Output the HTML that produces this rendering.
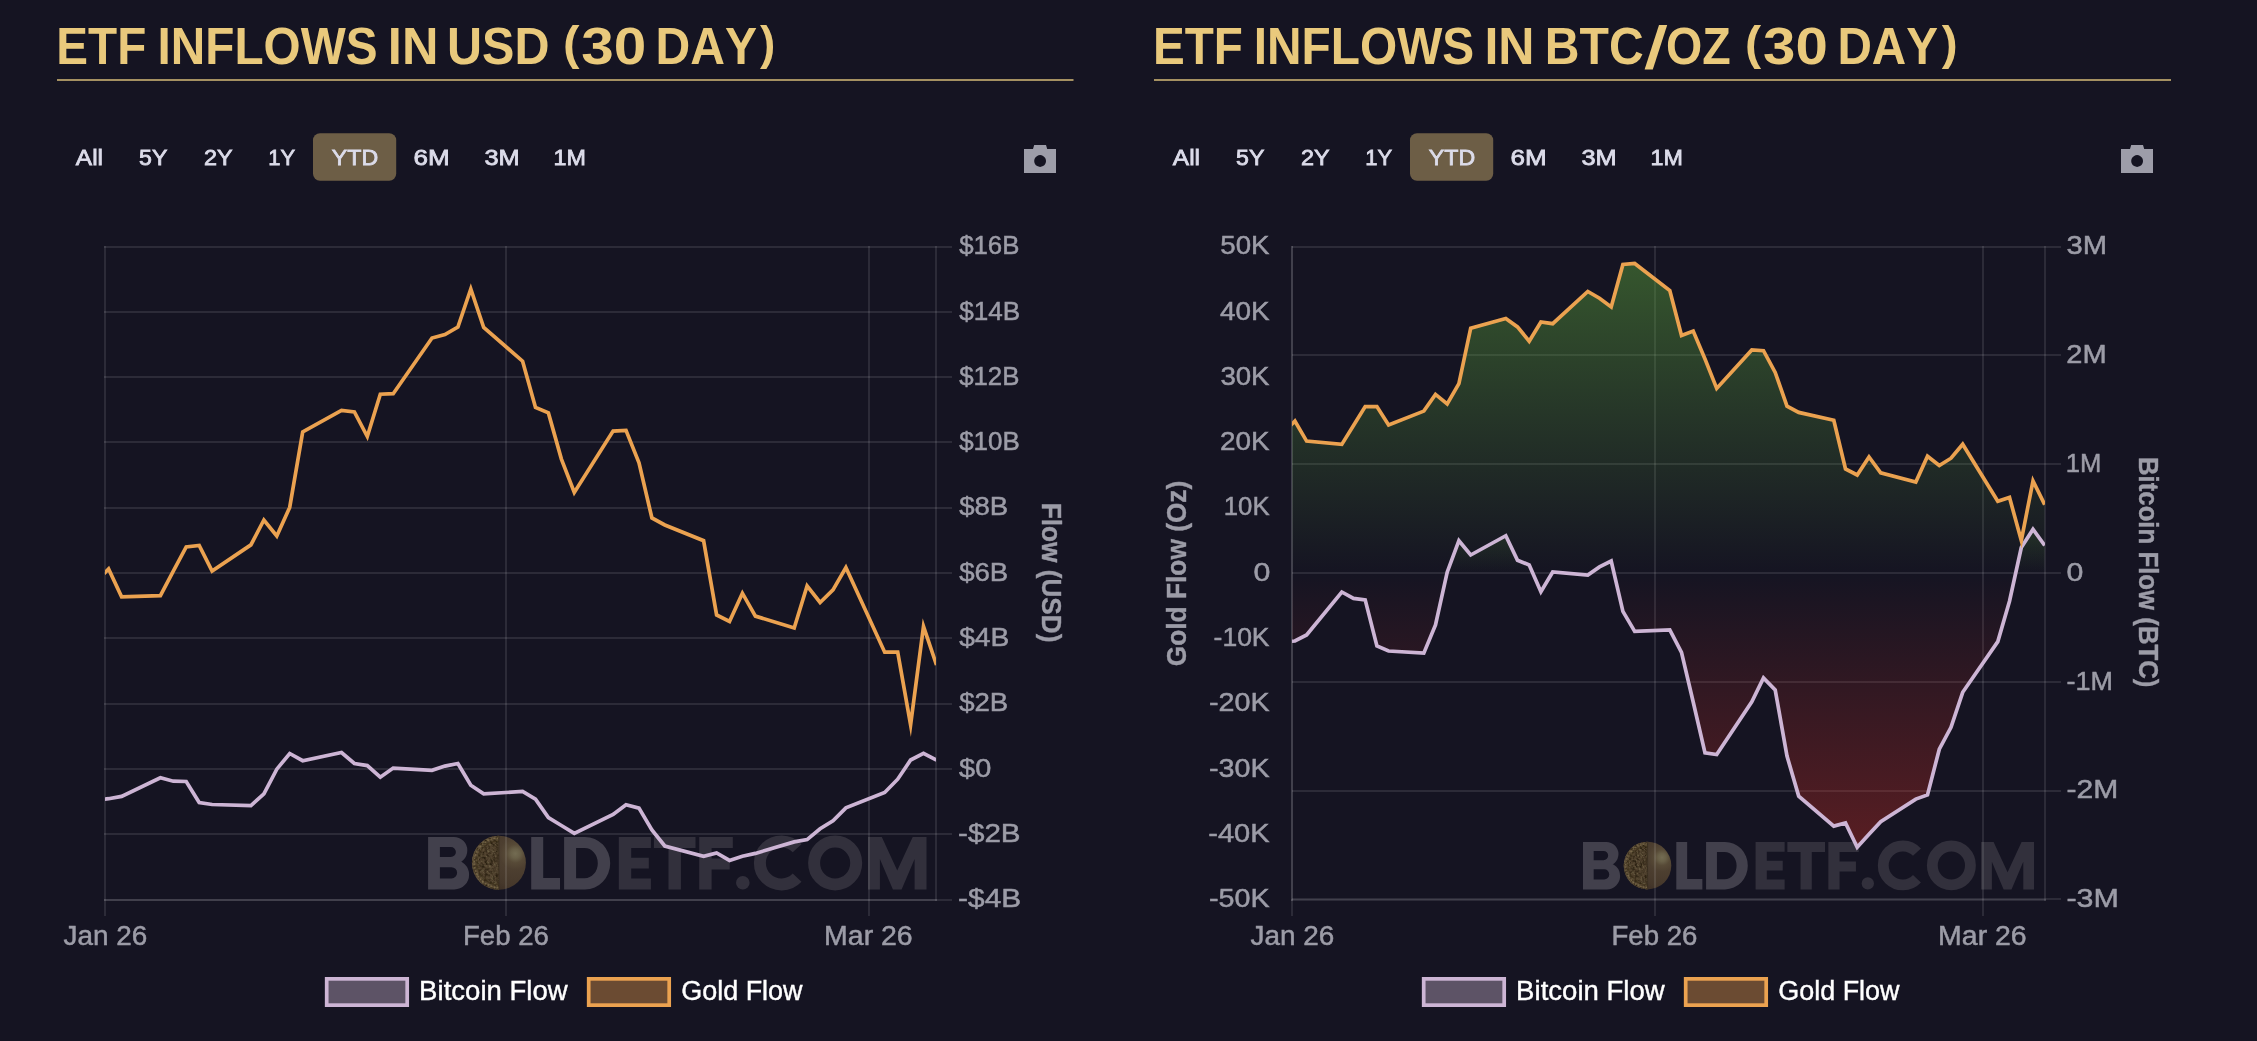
<!DOCTYPE html>
<html><head><meta charset="utf-8"><title>ETF Inflows</title>
<style>html,body{margin:0;padding:0;background:#151422;}body{width:2257px;height:1041px;overflow:hidden;}svg{display:block;will-change:transform;}text{font-family:"Liberation Sans", sans-serif;font-kerning:none;}</style>
</head><body>
<svg width="2257" height="1041" viewBox="0 0 2257 1041">
<defs>
<linearGradient id="gf" gradientUnits="userSpaceOnUse" x1="0" y1="247" x2="0" y2="900">
<stop offset="0" stop-color="#5ea83c" stop-opacity="0.47"/>
<stop offset="0.5" stop-color="#5ea83c" stop-opacity="0"/>
<stop offset="0.5" stop-color="#eb3223" stop-opacity="0"/>
<stop offset="1" stop-color="#eb3223" stop-opacity="0.37"/>
</linearGradient>
<linearGradient id="gb" gradientUnits="userSpaceOnUse" x1="0" y1="529" x2="0" y2="850">
<stop offset="0" stop-color="#5ea83c" stop-opacity="0.15"/>
<stop offset="0.137" stop-color="#5ea83c" stop-opacity="0"/>
<stop offset="0.137" stop-color="#eb3223" stop-opacity="0"/>
<stop offset="1" stop-color="#eb3223" stop-opacity="0.32"/>
</linearGradient>
<clipPath id="cl"><rect x="105" y="240" width="831" height="665"/></clipPath>
<clipPath id="cr"><rect x="1292" y="240" width="753" height="665"/></clipPath>
<radialGradient id="coinG" cx="0.805" cy="0.33" r="0.85"><stop offset="0" stop-color="#736c52"/><stop offset="0.1" stop-color="#696048"/><stop offset="0.2" stop-color="#574a37"/><stop offset="0.35" stop-color="#4d3f30"/><stop offset="0.7" stop-color="#46382b"/><stop offset="1" stop-color="#372a22"/></radialGradient>
<radialGradient id="coinLG" cx="0.5" cy="0.5" r="0.5"><stop offset="0" stop-color="#4c3d2b"/><stop offset="0.8" stop-color="#51422e"/><stop offset="1" stop-color="#5f503a"/></radialGradient>
<clipPath id="half"><rect x="-30" y="-30" width="30" height="60"/></clipPath>
<g id="wm">
<g fill="#42404c">
<path d="M0,0 H25.700000000000003 A13.5,13.5 0 0 1 39.2,13.5 V13.5 A13.5,13.5 0 0 1 25.700000000000003,27 H0 ZM0,23 H26.25 A14.75,14.75 0 0 1 41,37.75 V37.75 A14.75,14.75 0 0 1 26.25,52.5 H0 ZM11.8,10 V20.2 H22.700000000000003 A5.1,5.1 0 0 0 27.8,15.1 V15.1 A5.1,5.1 0 0 0 22.700000000000003,10 ZM11.8,30.3 V41.5 H23.4 A5.6,5.6 0 0 0 29,35.9 V35.9 A5.6,5.6 0 0 0 23.4,30.3 Z"/>
<path transform="translate(103.1,0)" d="M0,0 H12 V41.1 H28.8 V52.5 H0 Z"/>
<path transform="translate(136,0)" d="M0,0 H21 A25.1,26.25 0 0 1 21,52.5 H0 Z M12,11.1 V41.4 H20.5 A13.2,15.15 0 0 0 20.5,11.1 Z"/>
</g>
<g fill="#32303c">
<path transform="translate(190.7,0)" d="M0,0 H32.1 V11 H12.4 V20.8 H30 V31.6 H12.4 V41.5 H32.1 V52.5 H0 Z"/>
<path transform="translate(225.8,0)" d="M0,0 H41.6 V11.2 H27 V52.5 H14.6 V11.2 H0 Z"/>
<path transform="translate(271.1,0)" d="M0,0 H33.6 V11.2 H12.4 V21.6 H30.5 V32.6 H12.4 V52.5 H0 Z"/>
<circle cx="314.7" cy="45.9" r="6.8"/>
<path d="M369.02,11.34 A21.5,21.5 0 1 0 369.02,40.66" fill="none" stroke="#32303c" stroke-width="12"/>
<ellipse cx="407.05" cy="26.0" rx="21.05" ry="21.5" fill="none" stroke="#32303c" stroke-width="12"/>
<path transform="translate(439.9,0)" d="M0,52.5 V0 H13.8 L29.25,33.5 L44.7,0 H58.5 V52.5 H46.6 V22 L33.6,52.5 H24.9 L11.9,22 V52.5 Z"/>
</g>
</g>
<filter id="tex" color-interpolation-filters="sRGB" x="-10%" y="-10%" width="120%" height="120%"><feTurbulence type="fractalNoise" baseFrequency="0.42" numOctaves="3" seed="7" result="n"/><feColorMatrix in="n" type="matrix" values="0 0 0 0 0.43  0 0 0 0 0.385  0 0 0 0 0.275  1.9 1.9 0 0 -1.82" result="spk"/><feComposite in="spk" in2="SourceGraphic" operator="in"/></filter>
<filter id="tex2" color-interpolation-filters="sRGB" x="-10%" y="-10%" width="120%" height="120%"><feTurbulence type="fractalNoise" baseFrequency="0.36" numOctaves="2" seed="23" result="n"/><feColorMatrix in="n" type="matrix" values="0 0 0 0 0.17  0 0 0 0 0.13  0 0 0 0 0.07  0 2.0 2.0 0 -1.8" result="spk"/><feComposite in="spk" in2="SourceGraphic" operator="in"/></filter>
<g id="coin">
<circle r="26.7" fill="url(#coinG)"/>
<g clip-path="url(#half)">
<circle r="26.7" fill="url(#coinLG)"/>
<circle r="26.7" fill="#000" filter="url(#tex)"/>
<circle r="26.7" fill="#000" filter="url(#tex2)"/>
<circle r="24.4" fill="none" stroke="#8a7850" stroke-width="1.6" stroke-dasharray="1.5 1.7" opacity="0.6"/>
<circle r="21.6" fill="none" stroke="#3b2f18" stroke-width="1.2" opacity="0.6"/>
</g>
<rect x="-0.6" y="-26.5" width="1.2" height="53" fill="#2d2418" opacity="0.45"/>
</g>
</defs>
<rect width="2257" height="1041" fill="#151422"/>
<text x="56.31" y="63.70" font-size="51" font-weight="bold" fill="#e9c97c" textLength="89.93" lengthAdjust="spacingAndGlyphs">ETF</text>
<text x="157.56" y="63.70" font-size="51" font-weight="bold" fill="#e9c97c" textLength="220.06" lengthAdjust="spacingAndGlyphs">INFLOWS</text>
<text x="387.87" y="63.70" font-size="51" font-weight="bold" fill="#e9c97c" textLength="50.54" lengthAdjust="spacingAndGlyphs">IN</text>
<text x="447.09" y="63.70" font-size="51" font-weight="bold" fill="#e9c97c" textLength="102.45" lengthAdjust="spacingAndGlyphs">USD</text>
<text x="563.03" y="58.90" font-size="46.5" font-weight="bold" fill="#e9c97c" textLength="16.52" lengthAdjust="spacingAndGlyphs">(</text>
<text x="581.16" y="63.70" font-size="51" font-weight="bold" fill="#e9c97c" textLength="64.99" lengthAdjust="spacingAndGlyphs">30</text>
<text x="655.53" y="63.70" font-size="51" font-weight="bold" fill="#e9c97c" textLength="101.49" lengthAdjust="spacingAndGlyphs">DAY</text>
<text x="759.96" y="58.90" font-size="46.5" font-weight="bold" fill="#e9c97c" textLength="15.34" lengthAdjust="spacingAndGlyphs">)</text>
<rect x="57" y="79" width="1016.5" height="2" fill="#a59162"/>
<rect x="313" y="133.2" width="83.2" height="47.6" rx="7" fill="#6d5e46"/>
<text x="75.85" y="164.70" font-size="22.2" fill="#dcdcea" textLength="27.18" lengthAdjust="spacingAndGlyphs" stroke="#dcdcea" stroke-width="0.8">All</text>
<text x="139.07" y="164.70" font-size="22.2" fill="#dcdcea" textLength="28.34" lengthAdjust="spacingAndGlyphs" stroke="#dcdcea" stroke-width="0.8">5Y</text>
<text x="203.92" y="164.70" font-size="22.2" fill="#dcdcea" textLength="28.59" lengthAdjust="spacingAndGlyphs" stroke="#dcdcea" stroke-width="0.8">2Y</text>
<text x="268.23" y="164.70" font-size="22.2" fill="#dcdcea" textLength="26.85" lengthAdjust="spacingAndGlyphs" stroke="#dcdcea" stroke-width="0.8">1Y</text>
<text x="331.89" y="164.70" font-size="22.2" fill="#dcdcea" textLength="46.32" lengthAdjust="spacingAndGlyphs" stroke="#dcdcea" stroke-width="0.8">YTD</text>
<text x="413.58" y="164.70" font-size="22.2" fill="#dcdcea" textLength="36.16" lengthAdjust="spacingAndGlyphs" stroke="#dcdcea" stroke-width="0.8">6M</text>
<text x="484.43" y="164.70" font-size="22.2" fill="#dcdcea" textLength="35.25" lengthAdjust="spacingAndGlyphs" stroke="#dcdcea" stroke-width="0.8">3M</text>
<text x="553.62" y="164.70" font-size="22.2" fill="#dcdcea" textLength="32.39" lengthAdjust="spacingAndGlyphs" stroke="#dcdcea" stroke-width="0.8">1M</text>
<path fill="#9d9da9" fill-rule="evenodd" d="M1024,149 H1033 L1034.2,145 H1046 L1047.2,149 H1056 V173 H1024 Z M1040.1,155.1 a5.9,5.9 0 1,0 0.01,0 Z"/>
<use href="#wm" transform="translate(428.1,836.90) scale(1.0)"/>
<use href="#coin" transform="translate(498.9,862.8) scale(1.0112)"/>
<rect x="104" y="246.00" width="848" height="2" fill="rgba(255,255,255,0.1)"/>
<rect x="104" y="311.00" width="848" height="2" fill="rgba(255,255,255,0.1)"/>
<rect x="104" y="376.00" width="848" height="2" fill="rgba(255,255,255,0.1)"/>
<rect x="104" y="441.00" width="848" height="2" fill="rgba(255,255,255,0.1)"/>
<rect x="104" y="507.00" width="848" height="2" fill="rgba(255,255,255,0.1)"/>
<rect x="104" y="572.00" width="848" height="2" fill="rgba(255,255,255,0.1)"/>
<rect x="104" y="637.00" width="848" height="2" fill="rgba(255,255,255,0.1)"/>
<rect x="104" y="703.00" width="848" height="2" fill="rgba(255,255,255,0.1)"/>
<rect x="104" y="768.00" width="848" height="2" fill="rgba(255,255,255,0.1)"/>
<rect x="104" y="833.00" width="848" height="2" fill="rgba(255,255,255,0.1)"/>
<rect x="104" y="899.00" width="848" height="2" fill="rgba(255,255,255,0.1)"/>
<rect x="104" y="899.00" width="833" height="2" fill="rgba(255,255,255,0.1)"/>
<rect x="104.00" y="246" width="2" height="670" fill="rgba(255,255,255,0.1)"/>
<rect x="505.00" y="246" width="2" height="670" fill="rgba(255,255,255,0.1)"/>
<rect x="868.00" y="246" width="2" height="670" fill="rgba(255,255,255,0.1)"/>
<rect x="935.00" y="246" width="2" height="655" fill="rgba(255,255,255,0.1)"/>
<g clip-path="url(#cl)" fill="none" stroke-linejoin="miter" stroke-miterlimit="10" stroke-width="3.7">
<polyline stroke="#cdb5d5" points="95.7,800.0 108.6,798.7 121.6,796.4 160.4,777.8 173.3,781.2 186.2,781.5 199.2,802.5 212.1,804.5 250.9,805.6 263.9,793.8 276.8,769.2 289.7,753.5 302.7,760.7 341.5,752.5 354.4,763.5 367.3,765.6 380.3,777.2 393.2,768.1 432.0,770.3 444.9,766.1 457.9,763.5 470.8,785.3 483.7,793.8 522.6,791.5 535.5,799.1 548.4,817.6 561.4,825.5 574.3,833.4 613.1,814.5 626.0,804.7 639.0,808.1 651.9,829.9 664.8,846.0 703.6,856.3 716.6,852.9 729.5,860.4 742.4,856.3 755.4,853.4 794.2,841.9 807.1,839.6 820.1,828.8 833.0,820.7 845.9,807.9 884.7,792.5 897.7,779.2 910.6,760.0 923.5,753.4 936.5,760.0"/>
<polyline stroke="#eba250" points="95.7,582.0 108.6,569.0 121.6,596.8 160.4,595.6 173.3,571.2 186.2,546.9 199.2,545.4 212.1,571.1 250.9,544.9 263.9,520.0 276.8,536.0 289.7,507.4 302.7,432.0 341.5,410.5 354.4,412.0 367.3,436.5 380.3,394.2 393.2,393.7 432.0,338.0 444.9,334.5 457.9,327.0 470.8,289.0 483.7,327.5 522.6,361.2 535.5,407.4 548.4,412.9 561.4,459.1 574.3,492.5 613.1,431.1 626.0,430.4 639.0,462.9 651.9,518.0 664.8,525.0 703.6,540.7 716.6,614.9 729.5,621.5 742.4,593.2 755.4,616.1 794.2,628.0 807.1,585.9 820.1,602.5 833.0,589.9 845.9,567.5 884.7,652.2 897.7,652.2 910.6,724.8 923.5,626.4 936.5,665.0"/>
</g>
<text x="959.17" y="254.20" font-size="26.0" fill="#9c9ca7" textLength="60.24" lengthAdjust="spacingAndGlyphs" stroke="#9c9ca7" stroke-width="0.5">$16B</text>
<text x="959.17" y="319.50" font-size="26.0" fill="#9c9ca7" textLength="60.96" lengthAdjust="spacingAndGlyphs" stroke="#9c9ca7" stroke-width="0.5">$14B</text>
<text x="959.17" y="384.80" font-size="26.0" fill="#9c9ca7" textLength="60.24" lengthAdjust="spacingAndGlyphs" stroke="#9c9ca7" stroke-width="0.5">$12B</text>
<text x="959.17" y="450.10" font-size="26.0" fill="#9c9ca7" textLength="60.55" lengthAdjust="spacingAndGlyphs" stroke="#9c9ca7" stroke-width="0.5">$10B</text>
<text x="959.15" y="515.40" font-size="26.0" fill="#9c9ca7" textLength="49.05" lengthAdjust="spacingAndGlyphs" stroke="#9c9ca7" stroke-width="0.5">$8B</text>
<text x="959.15" y="580.70" font-size="26.0" fill="#9c9ca7" textLength="49.05" lengthAdjust="spacingAndGlyphs" stroke="#9c9ca7" stroke-width="0.5">$6B</text>
<text x="959.15" y="646.00" font-size="26.0" fill="#9c9ca7" textLength="50.09" lengthAdjust="spacingAndGlyphs" stroke="#9c9ca7" stroke-width="0.5">$4B</text>
<text x="959.15" y="711.30" font-size="26.0" fill="#9c9ca7" textLength="49.05" lengthAdjust="spacingAndGlyphs" stroke="#9c9ca7" stroke-width="0.5">$2B</text>
<text x="959.14" y="776.60" font-size="26.0" fill="#9c9ca7" textLength="32.14" lengthAdjust="spacingAndGlyphs" stroke="#9c9ca7" stroke-width="0.5">$0</text>
<text x="958.14" y="841.90" font-size="26.0" fill="#9c9ca7" textLength="62.47" lengthAdjust="spacingAndGlyphs" stroke="#9c9ca7" stroke-width="0.5">-$2B</text>
<text x="958.12" y="907.20" font-size="26.0" fill="#9c9ca7" textLength="63.00" lengthAdjust="spacingAndGlyphs" stroke="#9c9ca7" stroke-width="0.5">-$4B</text>
<text x="63.56" y="945.20" font-size="27.0" fill="#9c9ca7" textLength="83.66" lengthAdjust="spacingAndGlyphs" stroke="#9c9ca7" stroke-width="0.5">Jan 26</text>
<text x="462.98" y="945.20" font-size="27.0" fill="#9c9ca7" textLength="85.98" lengthAdjust="spacingAndGlyphs" stroke="#9c9ca7" stroke-width="0.5">Feb 26</text>
<text x="824.12" y="945.20" font-size="27.0" fill="#9c9ca7" textLength="88.59" lengthAdjust="spacingAndGlyphs" stroke="#9c9ca7" stroke-width="0.5">Mar 26</text>
<text transform="translate(1042.4,572.8) rotate(90)" x="-70.05" y="0" font-size="28.5" font-weight="bold" fill="#9c9ca7" stroke="#9c9ca7" stroke-width="0.4" textLength="139.66" lengthAdjust="spacingAndGlyphs">Flow (USD)</text>
<rect x="326.7" y="978.85" width="80.5" height="26.3" fill="#5d5366" stroke="#cdb5d5" stroke-width="3.7"/>
<text x="419.14" y="1000.00" font-size="27.0" fill="#ffffff" textLength="148.59" lengthAdjust="spacingAndGlyphs" stroke="#ffffff" stroke-width="0.4">Bitcoin Flow</text>
<rect x="588.7" y="978.85" width="80.5" height="26.3" fill="#6b4b32" stroke="#eba250" stroke-width="3.7"/>
<text x="681.24" y="1000.00" font-size="27.0" fill="#ffffff" textLength="121.29" lengthAdjust="spacingAndGlyphs" stroke="#ffffff" stroke-width="0.4">Gold Flow</text>
<text x="1153.01" y="63.70" font-size="51" font-weight="bold" fill="#e9c97c" textLength="89.93" lengthAdjust="spacingAndGlyphs">ETF</text>
<text x="1253.80" y="63.70" font-size="51" font-weight="bold" fill="#e9c97c" textLength="220.36" lengthAdjust="spacingAndGlyphs">INFLOWS</text>
<text x="1484.45" y="63.70" font-size="51" font-weight="bold" fill="#e9c97c" textLength="50.13" lengthAdjust="spacingAndGlyphs">IN</text>
<text x="1544.78" y="63.70" font-size="51" font-weight="bold" fill="#e9c97c" textLength="98.94" lengthAdjust="spacingAndGlyphs">BTC</text>
<path d="M1644.6,69.4 L1652.8,69.4 L1667.2,25.1 L1659.0,25.1 Z" fill="#e9c97c"/>
<text x="1665.99" y="63.70" font-size="51" font-weight="bold" fill="#e9c97c" textLength="64.76" lengthAdjust="spacingAndGlyphs">OZ</text>
<text x="1744.98" y="58.90" font-size="46.5" font-weight="bold" fill="#e9c97c" textLength="16.17" lengthAdjust="spacingAndGlyphs">(</text>
<text x="1763.06" y="63.70" font-size="51" font-weight="bold" fill="#e9c97c" textLength="64.72" lengthAdjust="spacingAndGlyphs">30</text>
<text x="1837.41" y="63.70" font-size="51" font-weight="bold" fill="#e9c97c" textLength="100.66" lengthAdjust="spacingAndGlyphs">DAY</text>
<text x="1941.75" y="58.90" font-size="46.5" font-weight="bold" fill="#e9c97c" textLength="15.93" lengthAdjust="spacingAndGlyphs">)</text>
<rect x="1154" y="79" width="1017" height="2" fill="#a59162"/>
<rect x="1410" y="133.2" width="83.2" height="47.6" rx="7" fill="#6d5e46"/>
<text x="1172.85" y="164.70" font-size="22.2" fill="#dcdcea" textLength="27.18" lengthAdjust="spacingAndGlyphs" stroke="#dcdcea" stroke-width="0.8">All</text>
<text x="1236.07" y="164.70" font-size="22.2" fill="#dcdcea" textLength="28.34" lengthAdjust="spacingAndGlyphs" stroke="#dcdcea" stroke-width="0.8">5Y</text>
<text x="1300.92" y="164.70" font-size="22.2" fill="#dcdcea" textLength="28.59" lengthAdjust="spacingAndGlyphs" stroke="#dcdcea" stroke-width="0.8">2Y</text>
<text x="1365.23" y="164.70" font-size="22.2" fill="#dcdcea" textLength="26.85" lengthAdjust="spacingAndGlyphs" stroke="#dcdcea" stroke-width="0.8">1Y</text>
<text x="1428.89" y="164.70" font-size="22.2" fill="#dcdcea" textLength="46.32" lengthAdjust="spacingAndGlyphs" stroke="#dcdcea" stroke-width="0.8">YTD</text>
<text x="1510.58" y="164.70" font-size="22.2" fill="#dcdcea" textLength="36.16" lengthAdjust="spacingAndGlyphs" stroke="#dcdcea" stroke-width="0.8">6M</text>
<text x="1581.43" y="164.70" font-size="22.2" fill="#dcdcea" textLength="35.25" lengthAdjust="spacingAndGlyphs" stroke="#dcdcea" stroke-width="0.8">3M</text>
<text x="1650.62" y="164.70" font-size="22.2" fill="#dcdcea" textLength="32.39" lengthAdjust="spacingAndGlyphs" stroke="#dcdcea" stroke-width="0.8">1M</text>
<path fill="#9d9da9" fill-rule="evenodd" d="M2121,149 H2130 L2131.2,145 H2143 L2144.2,149 H2153 V173 H2121 Z M2137.1,155.1 a5.9,5.9 0 1,0 0.01,0 Z"/>
<use href="#wm" transform="translate(1583,841.89) scale(0.905)"/>
<use href="#coin" transform="translate(1647.5,865.6) scale(0.8914)"/>
<rect x="1292" y="246.00" width="769" height="2" fill="rgba(255,255,255,0.1)"/>
<rect x="1292" y="354.00" width="769" height="2" fill="rgba(255,255,255,0.1)"/>
<rect x="1292" y="463.00" width="769" height="2" fill="rgba(255,255,255,0.1)"/>
<rect x="1292" y="572.00" width="769" height="2" fill="rgba(255,255,255,0.1)"/>
<rect x="1292" y="681.00" width="769" height="2" fill="rgba(255,255,255,0.1)"/>
<rect x="1292" y="790.00" width="769" height="2" fill="rgba(255,255,255,0.1)"/>
<rect x="1292" y="898.00" width="769" height="2" fill="rgba(255,255,255,0.1)"/>
<rect x="1291" y="899.00" width="755" height="2" fill="rgba(255,255,255,0.1)"/>
<rect x="1291.00" y="246" width="2" height="670" fill="rgba(255,255,255,0.1)"/>
<rect x="1654.00" y="246" width="2" height="670" fill="rgba(255,255,255,0.1)"/>
<rect x="1982.00" y="246" width="2" height="670" fill="rgba(255,255,255,0.1)"/>
<rect x="1291.00" y="246" width="2" height="655" fill="rgba(255,255,255,0.1)"/>
<rect x="2044.00" y="246" width="2" height="655" fill="rgba(255,255,255,0.1)"/>
<g clip-path="url(#cr)">
<path d="M1283.2,642.0 L1294.9,641.0 L1306.6,635.0 L1341.8,592.0 L1353.5,598.4 L1365.2,599.9 L1376.9,646.0 L1388.6,651.0 L1423.8,653.1 L1435.5,624.9 L1447.2,572.2 L1458.9,540.7 L1470.7,555.0 L1505.8,535.7 L1517.5,560.2 L1529.2,565.0 L1540.9,591.7 L1552.7,572.0 L1587.8,575.0 L1599.5,566.9 L1611.2,561.0 L1622.9,611.4 L1634.7,631.4 L1669.8,630.0 L1681.5,652.3 L1693.2,702.0 L1705.0,752.9 L1716.7,754.5 L1751.8,701.9 L1763.5,678.0 L1775.2,689.9 L1787.0,756.1 L1798.7,796.1 L1833.8,826.1 L1845.5,823.0 L1857.2,847.3 L1869.0,834.3 L1880.7,821.8 L1915.8,799.1 L1927.5,794.9 L1939.3,749.2 L1951.0,727.3 L1962.7,692.3 L1997.8,641.6 L2009.5,601.2 L2021.3,547.5 L2033.0,529.3 L2044.7,545.5 L2044.7,573 L1283.2,573 Z" fill="url(#gb)"/>
<path d="M1283.2,432.8 L1294.9,421.1 L1306.6,441.1 L1341.8,444.4 L1353.5,425.5 L1365.2,406.6 L1376.9,406.6 L1388.6,425.0 L1423.8,411.1 L1435.5,394.4 L1447.2,404.0 L1458.9,383.6 L1470.7,328.2 L1505.8,318.5 L1517.5,326.9 L1529.2,341.2 L1540.9,322.0 L1552.7,323.7 L1587.8,291.5 L1599.5,298.2 L1611.2,307.0 L1622.9,264.5 L1634.7,263.5 L1669.8,290.5 L1681.5,335.5 L1693.2,331.0 L1705.0,359.0 L1716.7,388.4 L1751.8,349.9 L1763.5,350.7 L1775.2,372.4 L1787.0,406.1 L1798.7,412.4 L1833.8,420.3 L1845.5,469.0 L1857.2,475.0 L1869.0,457.0 L1880.7,472.9 L1915.8,482.0 L1927.5,456.2 L1939.3,465.5 L1951.0,458.2 L1962.7,444.2 L1997.8,501.2 L2009.5,497.4 L2021.3,540.5 L2033.0,480.9 L2044.7,504.7 L2044.7,573 L1283.2,573 Z" fill="url(#gf)"/>
<g fill="none" stroke-linejoin="miter" stroke-miterlimit="10" stroke-width="3.7">
<polyline stroke="#cdb5d5" points="1283.2,642.0 1294.9,641.0 1306.6,635.0 1341.8,592.0 1353.5,598.4 1365.2,599.9 1376.9,646.0 1388.6,651.0 1423.8,653.1 1435.5,624.9 1447.2,572.2 1458.9,540.7 1470.7,555.0 1505.8,535.7 1517.5,560.2 1529.2,565.0 1540.9,591.7 1552.7,572.0 1587.8,575.0 1599.5,566.9 1611.2,561.0 1622.9,611.4 1634.7,631.4 1669.8,630.0 1681.5,652.3 1693.2,702.0 1705.0,752.9 1716.7,754.5 1751.8,701.9 1763.5,678.0 1775.2,689.9 1787.0,756.1 1798.7,796.1 1833.8,826.1 1845.5,823.0 1857.2,847.3 1869.0,834.3 1880.7,821.8 1915.8,799.1 1927.5,794.9 1939.3,749.2 1951.0,727.3 1962.7,692.3 1997.8,641.6 2009.5,601.2 2021.3,547.5 2033.0,529.3 2044.7,545.5"/>
<polyline stroke="#eba250" points="1283.2,432.8 1294.9,421.1 1306.6,441.1 1341.8,444.4 1353.5,425.5 1365.2,406.6 1376.9,406.6 1388.6,425.0 1423.8,411.1 1435.5,394.4 1447.2,404.0 1458.9,383.6 1470.7,328.2 1505.8,318.5 1517.5,326.9 1529.2,341.2 1540.9,322.0 1552.7,323.7 1587.8,291.5 1599.5,298.2 1611.2,307.0 1622.9,264.5 1634.7,263.5 1669.8,290.5 1681.5,335.5 1693.2,331.0 1705.0,359.0 1716.7,388.4 1751.8,349.9 1763.5,350.7 1775.2,372.4 1787.0,406.1 1798.7,412.4 1833.8,420.3 1845.5,469.0 1857.2,475.0 1869.0,457.0 1880.7,472.9 1915.8,482.0 1927.5,456.2 1939.3,465.5 1951.0,458.2 1962.7,444.2 1997.8,501.2 2009.5,497.4 2021.3,540.5 2033.0,480.9 2044.7,504.7"/>
</g></g>
<text x="1220.34" y="254.20" font-size="26.0" fill="#9c9ca7" textLength="49.22" lengthAdjust="spacingAndGlyphs" stroke="#9c9ca7" stroke-width="0.5">50K</text>
<text x="1220.01" y="319.50" font-size="26.0" fill="#9c9ca7" textLength="49.55" lengthAdjust="spacingAndGlyphs" stroke="#9c9ca7" stroke-width="0.5">40K</text>
<text x="1220.40" y="384.80" font-size="26.0" fill="#9c9ca7" textLength="49.16" lengthAdjust="spacingAndGlyphs" stroke="#9c9ca7" stroke-width="0.5">30K</text>
<text x="1220.05" y="450.10" font-size="26.0" fill="#9c9ca7" textLength="49.51" lengthAdjust="spacingAndGlyphs" stroke="#9c9ca7" stroke-width="0.5">20K</text>
<text x="1223.79" y="515.40" font-size="26.0" fill="#9c9ca7" textLength="45.75" lengthAdjust="spacingAndGlyphs" stroke="#9c9ca7" stroke-width="0.5">10K</text>
<text x="1253.57" y="580.70" font-size="26.0" fill="#9c9ca7" textLength="16.87" lengthAdjust="spacingAndGlyphs" stroke="#9c9ca7" stroke-width="0.5">0</text>
<text x="1213.57" y="646.00" font-size="26.0" fill="#9c9ca7" textLength="55.98" lengthAdjust="spacingAndGlyphs" stroke="#9c9ca7" stroke-width="0.5">-10K</text>
<text x="1208.98" y="711.30" font-size="26.0" fill="#9c9ca7" textLength="60.60" lengthAdjust="spacingAndGlyphs" stroke="#9c9ca7" stroke-width="0.5">-20K</text>
<text x="1208.98" y="776.60" font-size="26.0" fill="#9c9ca7" textLength="60.60" lengthAdjust="spacingAndGlyphs" stroke="#9c9ca7" stroke-width="0.5">-30K</text>
<text x="1208.26" y="841.90" font-size="26.0" fill="#9c9ca7" textLength="61.32" lengthAdjust="spacingAndGlyphs" stroke="#9c9ca7" stroke-width="0.5">-40K</text>
<text x="1208.98" y="907.20" font-size="26.0" fill="#9c9ca7" textLength="60.60" lengthAdjust="spacingAndGlyphs" stroke="#9c9ca7" stroke-width="0.5">-50K</text>
<text x="2066.64" y="254.20" font-size="26.0" fill="#9c9ca7" textLength="40.50" lengthAdjust="spacingAndGlyphs" stroke="#9c9ca7" stroke-width="0.5">3M</text>
<text x="2066.29" y="363.03" font-size="26.0" fill="#9c9ca7" textLength="40.34" lengthAdjust="spacingAndGlyphs" stroke="#9c9ca7" stroke-width="0.5">2M</text>
<text x="2065.80" y="471.86" font-size="26.0" fill="#9c9ca7" textLength="35.55" lengthAdjust="spacingAndGlyphs" stroke="#9c9ca7" stroke-width="0.5">1M</text>
<text x="2066.57" y="580.69" font-size="26.0" fill="#9c9ca7" textLength="16.87" lengthAdjust="spacingAndGlyphs" stroke="#9c9ca7" stroke-width="0.5">0</text>
<text x="2066.55" y="689.52" font-size="26.0" fill="#9c9ca7" textLength="46.41" lengthAdjust="spacingAndGlyphs" stroke="#9c9ca7" stroke-width="0.5">-1M</text>
<text x="2066.41" y="798.35" font-size="26.0" fill="#9c9ca7" textLength="51.80" lengthAdjust="spacingAndGlyphs" stroke="#9c9ca7" stroke-width="0.5">-2M</text>
<text x="2066.40" y="907.18" font-size="26.0" fill="#9c9ca7" textLength="52.34" lengthAdjust="spacingAndGlyphs" stroke="#9c9ca7" stroke-width="0.5">-3M</text>
<text x="1250.56" y="945.20" font-size="27.0" fill="#9c9ca7" textLength="83.66" lengthAdjust="spacingAndGlyphs" stroke="#9c9ca7" stroke-width="0.5">Jan 26</text>
<text x="1611.48" y="945.20" font-size="27.0" fill="#9c9ca7" textLength="85.98" lengthAdjust="spacingAndGlyphs" stroke="#9c9ca7" stroke-width="0.5">Feb 26</text>
<text x="1938.12" y="945.20" font-size="27.0" fill="#9c9ca7" textLength="88.59" lengthAdjust="spacingAndGlyphs" stroke="#9c9ca7" stroke-width="0.5">Mar 26</text>
<text transform="translate(1185.6,573.6) rotate(-90)" x="-92.63" y="0" font-size="28.5" font-weight="bold" fill="#9c9ca7" stroke="#9c9ca7" stroke-width="0.4" textLength="185.49" lengthAdjust="spacingAndGlyphs">Gold Flow (Oz)</text>
<text transform="translate(2139.2,572.4) rotate(90)" x="-115.47" y="0" font-size="28.5" font-weight="bold" fill="#9c9ca7" stroke="#9c9ca7" stroke-width="0.4" textLength="230.51" lengthAdjust="spacingAndGlyphs">Bitcoin Flow (BTC)</text>
<rect x="1423.7" y="978.85" width="80.5" height="26.3" fill="#5d5366" stroke="#cdb5d5" stroke-width="3.7"/>
<text x="1516.14" y="1000.00" font-size="27.0" fill="#ffffff" textLength="148.59" lengthAdjust="spacingAndGlyphs" stroke="#ffffff" stroke-width="0.4">Bitcoin Flow</text>
<rect x="1685.7" y="978.85" width="80.5" height="26.3" fill="#6b4b32" stroke="#eba250" stroke-width="3.7"/>
<text x="1778.24" y="1000.00" font-size="27.0" fill="#ffffff" textLength="121.29" lengthAdjust="spacingAndGlyphs" stroke="#ffffff" stroke-width="0.4">Gold Flow</text>
</svg>
</body></html>
